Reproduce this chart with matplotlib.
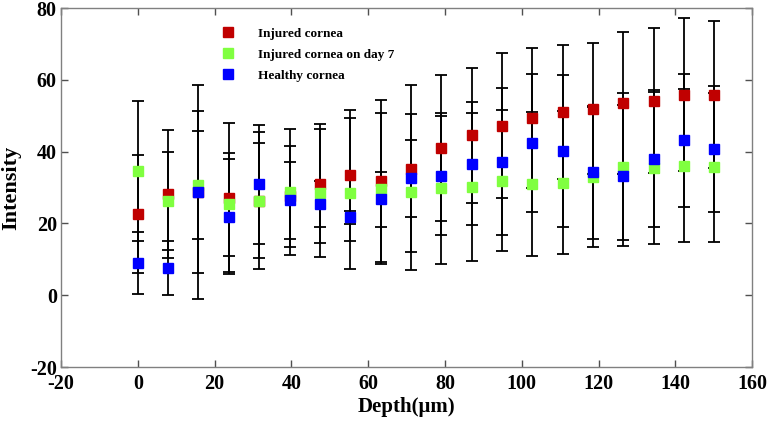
import matplotlib
matplotlib.use("Agg")
import matplotlib.pyplot as plt
from matplotlib.lines import Line2D

# Profundidad (um)
depth = [0, 7.9, 15.8, 23.7, 31.6, 39.5, 47.4, 55.3, 63.2, 71.1,
         79.0, 86.9, 94.8, 102.7, 110.6, 118.5, 126.4, 134.3, 142.2, 150.1]

# Cornea lesionada
injured = [22.6, 28.1, 28.8, 27.2, 26.4, 27.6, 31.1, 33.4, 31.8, 35.3,
           41.1, 44.6, 47.2, 49.4, 51.1, 52.0, 53.6, 54.2, 55.9, 55.9]
injured_err = [16.5, 17.8, 29.9, 20.8, 15.9, 14.1, 16.6, 18.2, 22.5, 23.3,
               20.3, 18.8, 20.2, 19.5, 18.6, 18.3, 19.8, 20.1, 21.3, 20.5]

# Cornea lesionada, dia 7
day7 = [34.7, 26.2, 30.8, 25.3, 26.4, 28.8, 28.5, 28.4, 29.7, 28.8,
        29.8, 30.2, 31.9, 31.0, 31.4, 33.0, 35.8, 35.5, 36.1, 35.6]
day7_err = [19.5, 13.6, 15.0, 14.3, 19.1, 17.6, 17.9, 21.1, 21.0, 21.8,
            21.0, 20.6, 19.6, 20.1, 20.0, 19.5, 20.5, 21.2, 21.3, 20.8]

# Cornea sana
healthy = [9.0, 7.5, 28.7, 21.9, 30.9, 26.5, 25.4, 21.7, 26.7, 32.6,
           33.3, 36.7, 37.2, 42.3, 40.2, 34.2, 33.3, 38.0, 43.2, 40.8]
healthy_err = [8.7, 7.5, 22.6, 16.0, 16.5, 10.7, 6.5, 1.8, 7.6, 10.7,
               16.6, 17.1, 20.4, 19.2, 21.2, 18.5, 19.7, 19.1, 18.5, 17.5]

series = [
    ("Injured cornea", injured, injured_err, "#C00000"),
    ("Injured cornea on day 7", day7, day7_err, "#80FF40"),
    ("Healthy cornea", healthy, healthy_err, "#0000FF"),
]

plt.rcParams['font.family'] = ['Liberation Serif', 'DejaVu Serif']
plt.rcParams['font.weight'] = 'bold'
plt.rcParams['axes.unicode_minus'] = False

fig = plt.figure(figsize=(7.69, 4.22), dpi=100)
ax = fig.add_axes([0.0793, 0.130, 0.899, 0.851])

# barras de error primero
for nombre, y, e, color in series:
    ax.errorbar(depth, y, yerr=e, fmt='none', ecolor='black',
                elinewidth=1.3, capsize=4.5, capthick=1.3, zorder=2)

# marcadores encima
handles = []
for nombre, y, e, color in series:
    ax.plot(depth, y, 's', color=color, markersize=7.5, zorder=3)
    handles.append(Line2D([], [], marker='s', linestyle='none',
                          color=color, markersize=7.5, label=nombre))

ax.legend(handles=handles, loc='upper left', bbox_to_anchor=(0.215, 0.978),
          frameon=False, handlelength=1.0, handletextpad=1.8,
          labelspacing=0.65, prop={'family': 'Liberation Serif',
                                   'weight': 'bold', 'size': 9.5})

ax.set_xlim(-20, 160)
ax.set_ylim(-20, 80)
ax.set_xticks(range(-20, 161, 20))
ax.set_yticks(range(-20, 81, 20))

for s in ax.spines.values():
    s.set_color('#808080')
    s.set_linewidth(1.0)

ax.tick_params(direction='in', length=5, width=1, color='#505050',
               top=True, right=True, labelsize=14.5)
ax.tick_params(axis='x', pad=5)
ax.tick_params(axis='y', pad=3)
for lab in ax.get_xticklabels() + ax.get_yticklabels():
    lab.set_fontweight('bold')

ax.set_xlabel(u'Depth(\u03bcm)', fontsize=15, fontweight='bold', labelpad=2)
ax.set_ylabel('Intensity', fontsize=16, fontweight='bold', labelpad=6)

fig.savefig('out.png', dpi=100)
